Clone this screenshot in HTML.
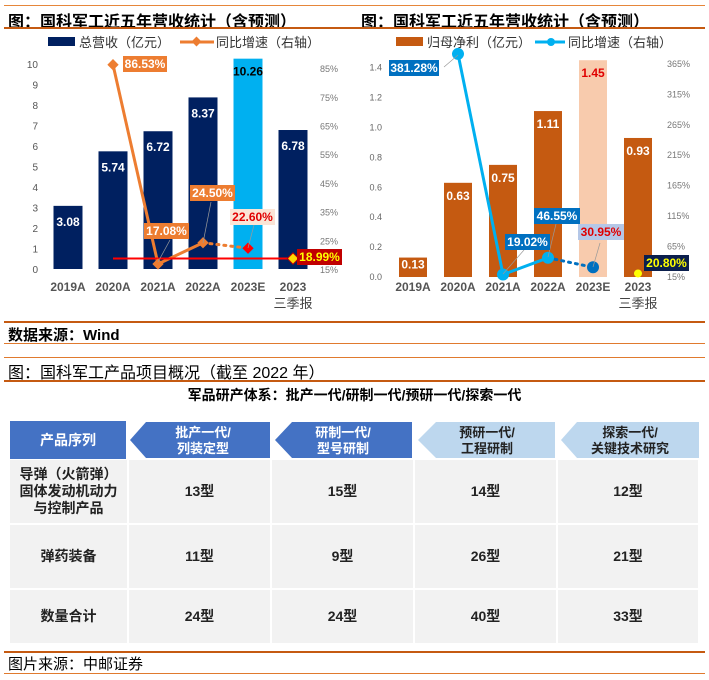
<!DOCTYPE html>
<html><head><meta charset="utf-8"><style>
body{margin:0;width:709px;height:680px;background:#fff;position:relative;overflow:hidden;font-family:"Liberation Sans","Noto Sans CJK SC",sans-serif}
.abs{position:absolute}
.hl{position:absolute;height:2px;background:#E07A2E}
.t{position:absolute;font-weight:bold;color:#000;white-space:nowrap}
.cell{position:absolute;background:#F2F2F2;display:flex;align-items:center;justify-content:center;text-align:center;font-weight:bold;font-size:14px;color:#222;line-height:17px}
</style></head><body>
<div class="hl" style="left:4px;top:5px;width:701px;background:#E6863A;height:1px"></div>
<div class="t" style="left:8px;top:8px;font-size:16px">图：国科军工近五年营收统计（含预测）</div>
<div class="t" style="left:361px;top:8px;font-size:16px">图：国科军工近五年营收统计（含预测）</div>
<div class="hl" style="left:4px;top:27px;width:701px;background:#C55A11"></div>
<svg class="abs" style="left:0;top:0" width="709" height="345" id="charts"></svg>
<div class="hl" style="left:4px;top:321px;width:701px;background:#C55A11"></div>
<div class="t" style="left:8px;top:324px;font-size:15px">数据来源：Wind</div>
<div class="hl" style="left:4px;top:343px;width:701px;height:1px"></div>

<div class="hl" style="left:4px;top:357px;width:701px;height:1px"></div>
<div class="t" style="left:8px;top:359px;font-size:16px;font-weight:normal">图：国科军工产品项目概况（截至 2022 年）</div>
<div class="hl" style="left:4px;top:380px;width:701px;background:#C55A11"></div>
<div class="t" style="left:0;width:709px;text-align:center;top:385px;font-size:14px">军品研产体系：批产一代/研制一代/预研一代/探索一代</div>

<div class="cell" style="left:10px;top:421px;width:116px;height:38px;background:#4472C4;color:#fff">产品序列</div>
<svg class="abs" style="left:0;top:420px" width="709" height="40">
<polygon points="146,2 270,2 270,38 146,38 130,20" fill="#4472C4"/>
<polygon points="292,2 412,2 412,38 292,38 275,20" fill="#4472C4"/>
<polygon points="436,2 555,2 555,38 436,38 418,20" fill="#BDD7EE"/>
<polygon points="577,2 699,2 699,38 577,38 561,20" fill="#BDD7EE"/>
<g font-weight="bold" font-size="13" text-anchor="middle">
<text x="203" y="17" fill="#fff">批产一代/</text><text x="203" y="33" fill="#fff">列装定型</text>
<text x="343" y="17" fill="#fff">研制一代/</text><text x="343" y="33" fill="#fff">型号研制</text>
<text x="487" y="17" fill="#222">预研一代/</text><text x="487" y="33" fill="#222">工程研制</text>
<text x="630" y="17" fill="#222">探索一代/</text><text x="630" y="33" fill="#222">关键技术研究</text>
</g></svg>
<div id="tbl"></div>
<div class="hl" style="left:4px;top:651px;width:701px;background:#C55A11"></div>
<div class="t" style="left:8px;top:653px;font-size:15px;font-weight:normal">图片来源：中邮证券</div>
<div class="hl" style="left:4px;top:673px;width:701px;height:1px"></div>

<script>
const NS="http://www.w3.org/2000/svg";
const svg=document.getElementById('charts');
function el(t,a,txt){const e=document.createElementNS(NS,t);for(const k in a)e.setAttribute(k,a[k]);if(txt!==undefined)e.textContent=txt;svg.appendChild(e);return e;}
const categories=["2019A","2020A","2021A","2022A","2023E","2023"];
const revenue=[3.08,5.74,6.72,8.37,10.26,6.78];
const revenueGrowth=[null,86.53,17.08,24.50,22.60,18.99];
const leftTicks=[0,1,2,3,4,5,6,7,8,9,10];
const leftRightTicks=[15,25,35,45,55,65,75,85];
const profit=[0.13,0.63,0.75,1.11,1.45,0.93];
const profitGrowth=[null,381.28,19.02,46.55,30.95,20.80];
const rightTicks=[0,0.2,0.4,0.6,0.8,1.0,1.2,1.4];
const rightRightTicks=[15,65,115,165,215,265,315,365];

// Left chart axes
const lx=i=>68+i*45, ly=v=>269-v*20.5, lr=p=>270-(p-15)*2.87;
const rx=i=>413+i*45, ry=v=>277-v*149.5, rr=p=>277-(p-15)*0.609;

// legends
let e;
e=el('rect',{x:48,y:37,width:27,height:9,fill:'#002060'});
e=el('text',{x:79,y:47,'font-size':13,fill:'#333'},'总营收（亿元）');
el('line',{x1:180,y1:42,x2:214,y2:42,stroke:'#ED7D31','stroke-width':3});
el('rect',{x:193,y:38,width:7,height:7,fill:'#ED7D31',transform:'rotate(45 196.5 41.5)'});
e=el('text',{x:216,y:47,'font-size':13,fill:'#333'},'同比增速（右轴）');
e=el('rect',{x:396,y:37,width:27,height:9,fill:'#C55A11'});
e=el('text',{x:427,y:47,'font-size':13,fill:'#333'},'归母净利（亿元）');
el('line',{x1:535,y1:42,x2:565,y2:42,stroke:'#00B0F0','stroke-width':3});
el('circle',{cx:551,cy:42,r:4,fill:'#00B0F0'});
e=el('text',{x:568,y:47,'font-size':13,fill:'#333'},'同比增速（右轴）');

leftTicks.forEach(t=>{e=el('text',{x:38,y:ly(t)+4,'font-size':10,fill:'#555','text-anchor':'end'},t);});
leftRightTicks.forEach(t=>{e=el('text',{x:320,y:lr(t)+3,'font-size':9,fill:'#777'},t+'%');});
rightTicks.forEach(t=>{e=el('text',{x:382,y:ry(t)+3,'font-size':9,fill:'#666','text-anchor':'end'},t.toFixed(1));});
rightRightTicks.forEach(t=>{e=el('text',{x:667,y:rr(t)+3,'font-size':9,fill:'#777'},t+'%');});

categories.forEach((c,i)=>{
  [[lx(i),'left'],[rx(i),'right']].forEach(([x,s])=>{
    e=el('text',{x:x,y:291,'font-size':12,'font-weight':'bold',fill:'#555','text-anchor':'middle'},c);
    
    if(i==5){e=el('text',{x:x,y:308,'font-size':13,fill:'#444','text-anchor':'middle'},'三季报');}
  });
});

revenue.forEach((v,i)=>{
  e=el('rect',{x:lx(i)-14.5,y:ly(v),width:29,height:ly(0)-ly(v),fill:i==4?'#00B0F0':'#002060'});
  
  e=el('text',{x:lx(i),y:ly(v)+(i==4?17:20),'font-size':12,'font-weight':'bold',fill:i==4?'#000':'#fff','text-anchor':'middle'},v.toFixed(2));
  
});
profit.forEach((v,i)=>{
  e=el('rect',{x:rx(i)-14,y:ry(v),width:28,height:ry(0)-ry(v),fill:i==4?'#F8CBAD':'#C55A11'});
  
  e=el('text',{x:rx(i),y:ry(v)+(i==0?11:17),'font-size':12,'font-weight':'bold',fill:i==4?'#E00000':'#fff','text-anchor':'middle'},v.toFixed(2));
  
});

// left growth line
let pts=[1,2,3].map(i=>lx(i)+','+lr(revenueGrowth[i])).join(' ');
e=el('polyline',{points:pts,fill:'none',stroke:'#ED7D31','stroke-width':3});
e=el('line',{x1:lx(3),y1:lr(revenueGrowth[3]),x2:lx(4),y2:lr(revenueGrowth[4]),stroke:'#ED7D31','stroke-width':3,'stroke-dasharray':'2 5','stroke-linecap':'round'});
e=el('line',{x1:lx(1),y1:lr(revenueGrowth[5]),x2:lx(5),y2:lr(revenueGrowth[5]),stroke:'#FF0000','stroke-width':2});
[1,2,3,4,5].forEach(i=>{const x=lx(i),y=lr(revenueGrowth[i]);
  e=el('rect',{x:x-4,y:y-4,width:8,height:8,fill:i==4?'#FF0000':(i==5?'#FFD700':'#ED7D31'),stroke:i==5?'#C00000':'none',transform:`rotate(45 ${x} ${y})`});
  });
function lab(x,y,w,txt,bg,fg,name){e=el('rect',{x:x,y:y,width:w,height:16,fill:bg});
  e=el('text',{x:x+w/2,y:y+12,'font-size':12,'font-weight':'bold',fill:fg,'text-anchor':'middle'},txt);}
el('line',{x1:158,y1:262,x2:170,y2:240,stroke:'#999','stroke-width':0.7});
el('line',{x1:203,y1:243,x2:211,y2:202,stroke:'#999','stroke-width':0.7});
el('line',{x1:248,y1:248,x2:254,y2:225,stroke:'#999','stroke-width':0.7});
lab(123,56,44,revenueGrowth[1].toFixed(2)+'%','#ED7D31','#fff','revenue-growth-label');
lab(144,223,45,revenueGrowth[2].toFixed(2)+'%','#ED7D31','#fff','revenue-growth-label');
lab(190,185,45,revenueGrowth[3].toFixed(2)+'%','#ED7D31','#fff','revenue-growth-label');
lab(230,209,45,revenueGrowth[4].toFixed(2)+'%','#FBE5D6','#E00000','revenue-growth-label');
lab(297,249,45,revenueGrowth[5].toFixed(2)+'%','#C00000','#FFFF00','revenue-growth-label');

// right growth line
pts=[1,2,3].map(i=>rx(i)+','+rr(profitGrowth[i])).join(' ');
e=el('polyline',{points:pts,fill:'none',stroke:'#00B0F0','stroke-width':3});
e=el('line',{x1:rx(3),y1:rr(profitGrowth[3]),x2:rx(4),y2:rr(profitGrowth[4]),stroke:'#0070C0','stroke-width':3,'stroke-dasharray':'2 5','stroke-linecap':'round'});
[1,2,3,4].forEach(i=>{e=el('circle',{cx:rx(i),cy:rr(profitGrowth[i]),r:i==4?6:6,fill:i==4?'#0070C0':'#00B0F0'});});
e=el('circle',{cx:rx(5),cy:rr(profitGrowth[5]),r:4,fill:'#FFFF00'});
el('line',{x1:444,y1:67,x2:458,y2:55,stroke:'#999','stroke-width':0.7});
el('line',{x1:503,y1:274,x2:524,y2:250,stroke:'#999','stroke-width':0.7});
el('line',{x1:548,y1:257,x2:556,y2:224,stroke:'#999','stroke-width':0.7});
el('line',{x1:593,y1:267,x2:600,y2:243,stroke:'#999','stroke-width':0.7});
lab(389,60,50,profitGrowth[1].toFixed(2)+'%','#0070C0','#fff','profit-growth-label');
lab(505,234,45,profitGrowth[2].toFixed(2)+'%','#0070C0','#fff','profit-growth-label');
lab(534,208,46,profitGrowth[3].toFixed(2)+'%','#0070C0','#fff','profit-growth-label');
lab(578,224,46,profitGrowth[4].toFixed(2)+'%','#B4C7E7','#E00000','profit-growth-label');
lab(644,255,45,profitGrowth[5].toFixed(2)+'%','#0B1F4D','#FFFF00','profit-growth-label');

// table
const rowLabels=["导弹（火箭弹）<br>固体发动机动力<br>与控制产品","弹药装备","数量合计"];
const tableValues=[["13型","15型","14型","12型"],["11型","9型","26型","21型"],["24型","24型","40型","33型"]];
const colX=[10,129,272,415,558,700];const rowY=[460,525,590,645];
const tbl=document.getElementById('tbl');
rowLabels.forEach((r,ri)=>{
  for(let c=0;c<5;c++){
    const d=document.createElement('div');d.className='cell';
    d.style.left=colX[c]+'px';d.style.top=rowY[ri]+'px';d.style.width=(colX[c+1]-colX[c]-2)+'px';d.style.height=(rowY[ri+1]-rowY[ri]-2)+'px';
    d.innerHTML=c==0?r:tableValues[ri][c-1];
    
    
    tbl.appendChild(d);
  }
});
</script>
</body></html>
